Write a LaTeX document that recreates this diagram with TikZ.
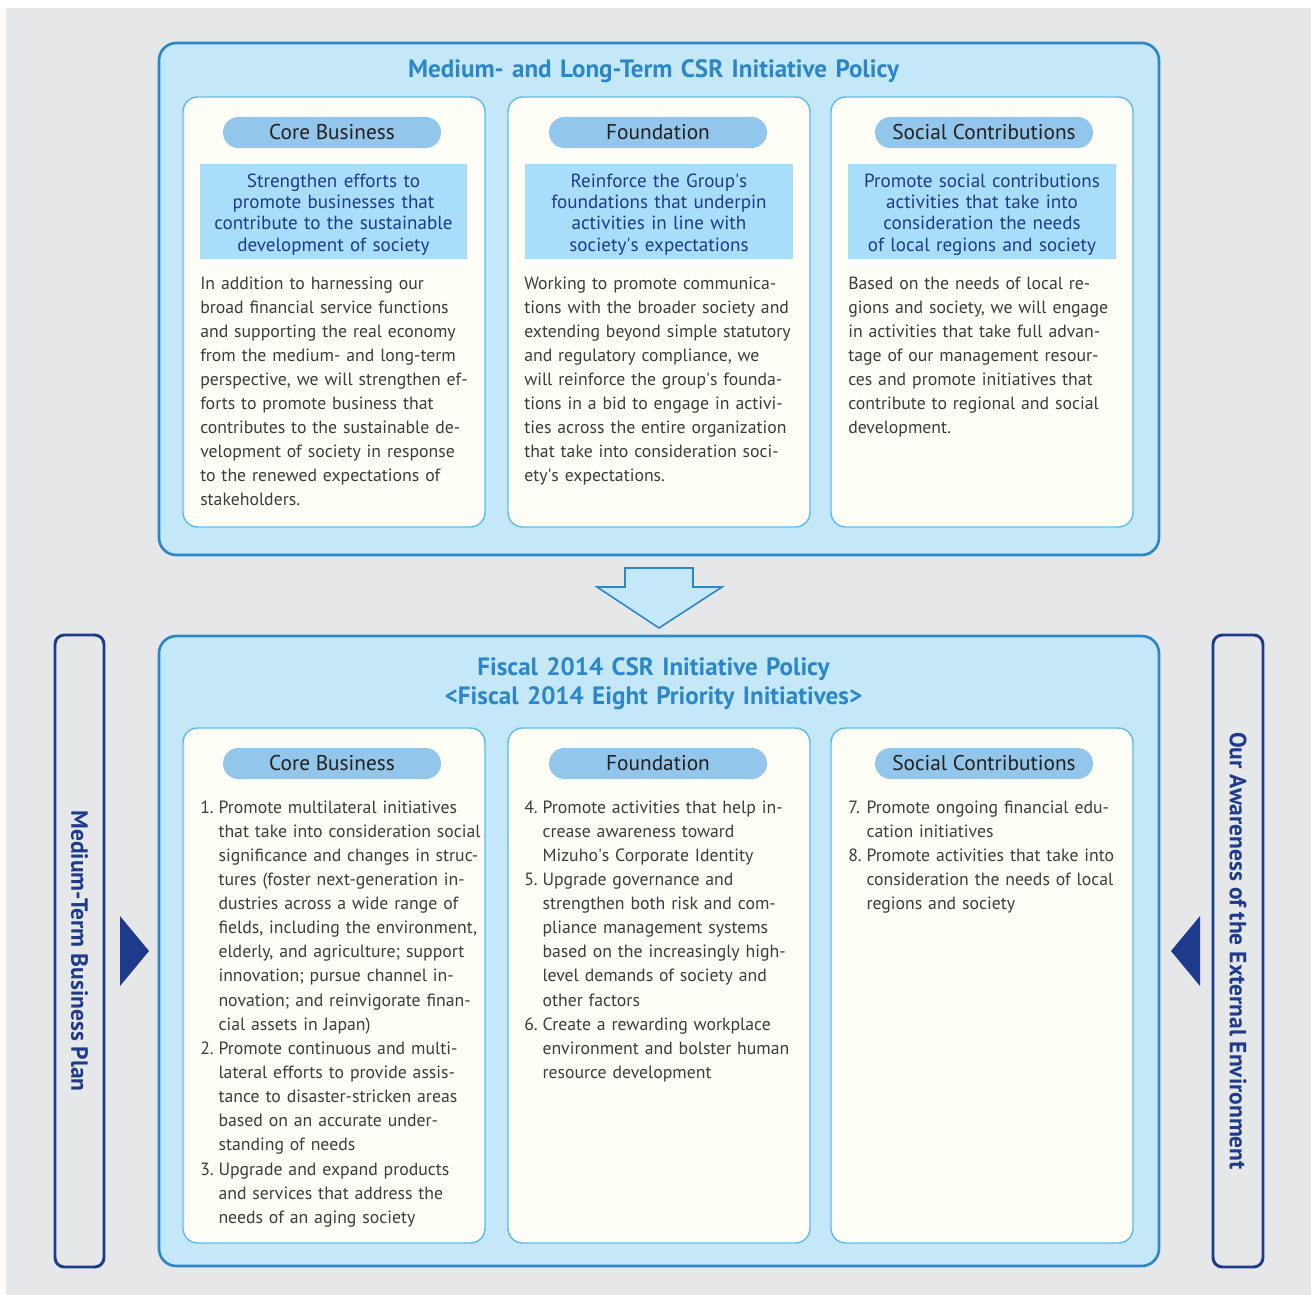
\documentclass[tikz,border=0pt]{standalone}
\usepackage{fontspec}
\setmainfont{PT Sans}
\usetikzlibrary{fit}
\definecolor{bggray}{HTML}{E6E7E9}
\definecolor{csrblue}{HTML}{2B87CA}
\definecolor{outerfill}{HTML}{C5E8F8}
\definecolor{panelline}{HTML}{62BCEA}
\definecolor{ivory}{HTML}{FEFEF7}
\definecolor{pillfill}{HTML}{92C6EA}
\definecolor{aimfill}{HTML}{A8DEF9}
\definecolor{navy}{HTML}{1E3A8C}
\definecolor{bodytext}{HTML}{3C3C3B}
\definecolor{pilltext}{HTML}{231F20}
\newcommand{\num}[1]{\makebox[13.7pt][l]{#1}}
\newcommand{\cont}{\hspace*{13.7pt}}
\newcommand{\ap}{\textquotesingle}

\begin{document}
\begin{tikzpicture}[x=0.75pt,y=-0.75pt,
  outer/.style={draw=csrblue,line width=2pt,fill=outerfill,rounded corners=13pt,inner sep=0pt},
  panel/.style={draw=panelline,line width=1.1pt,fill=ivory,rounded corners=11pt,inner sep=0pt},
  pill/.style={fill=pillfill,rounded corners=11.6pt,minimum width=163.5pt,minimum height=23.25pt,inner sep=0pt,text=pilltext,font=\fontsize{16}{18}\selectfont},
  aimbox/.style={fill=aimfill,inner sep=0pt},
  aimtext/.style={inner sep=0pt,text width=198pt,align=center,text=navy,font=\fontsize{14.3}{16}\selectfont},
  body/.style={anchor=base west,inner sep=0pt,text width=230pt,align=left,text=bodytext,font=\fontsize{13.3}{18}\selectfont},
  list/.style={body,font=\fontsize{13.3}{18.1}\selectfont},
  head/.style={anchor=base,inner sep=0pt,text width=500pt,align=center,text=csrblue,font=\fontsize{18.8}{21.75}\bfseries\selectfont},
  sidebar/.style={draw=navy,line width=2.2pt,rounded corners=7pt,inner sep=0pt},
  sidetext/.style={text=navy,rotate=-90,inner sep=0pt,font=\fontsize{17.6}{19}\bfseries\selectfont}]
\useasboundingbox (0,0) rectangle (1311,1295);
\fill[white] (0,0) rectangle (1311,1295);
\fill[bggray] (6,8) rectangle (1311,1295);

\node[outer,fit={(159,43) (1159,555)}] (top) {};
\node[head] (toptitle) at (653.5,78) {Medium- and Long-Term CSR Initiative Policy};
\node[panel,fit={(183,97) (485,527)}] (p1) {};
\node[panel,fit={(508,97) (810,527)}] (p2) {};
\node[panel,fit={(831,97) (1133,527)}] (p3) {};
\node[pill] (c1) at (332,132.5) {Core Business};
\node[pill] (c2) at (658,132.5) {Foundation};
\node[pill] (c3) at (984,132.5) {Social Contributions};
\node[aimbox,fit={(200,164) (467,259)}] (a1) {};
\node[aimbox,fit={(525,164) (793,259)}] (a2) {};
\node[aimbox,fit={(848,164) (1116,259)}] (a3) {};
\node[aimtext] (a1text) at ([yshift=-2.25pt]a1.center) {Strengthen efforts to\\promote businesses that\\contribute to the sustainable\\development of society};
\node[aimtext] (a2text) at ([yshift=-2.25pt]a2.center) {Reinforce the Group\ap s\\foundations that underpin\\activities in line with\\society\ap s expectations};
\node[aimtext] (a3text) at ([yshift=-2.25pt]a3.center) {Promote social contributions\\activities that take into\\consideration the needs\\of local regions and society};
\node[body] (t1) at (200,289.5) {In addition to harnessing our\\broad financial service functions\\and supporting the real economy\\from the medium- and long-term\\perspective, we will strengthen ef-\\forts to promote business that\\contributes to the sustainable de-\\velopment of society in response\\to the renewed expectations of\\stakeholders.};
\node[body] (t2) at (524,289.5) {Working to promote communica-\\tions with the broader society and\\extending beyond simple statutory\\and regulatory compliance, we\\will reinforce the group\ap s founda-\\tions in a bid to engage in activi-\\ties across the entire organization\\that take into consideration soci-\\ety\ap s expectations.};
\node[body] (t3) at (848,289.5) {Based on the needs of local re-\\gions and society, we will engage\\in activities that take full advan-\\tage of our management resour-\\ces and promote initiatives that\\contribute to regional and social\\development.};

\draw[csrblue,line width=1.2pt,fill=outerfill] (625,568) -- (693,568) -- (693,587) -- (722,587) -- (659,628) -- (597,587) -- (625,587) -- cycle;

\node[outer,fit={(159,636) (1159,1266)}] (bottom) {};
\node[head] (bottomtitle) at (653.5,675) {Fiscal 2014 CSR Initiative Policy\\<Fiscal 2014 Eight Priority Initiatives>};
\node[panel,fit={(183,728) (485,1243)}] (q1) {};
\node[panel,fit={(508,728) (810,1243)}] (q2) {};
\node[panel,fit={(831,728) (1133,1243)}] (q3) {};
\node[pill] (d1) at (332,763.5) {Core Business};
\node[pill] (d2) at (658,763.5) {Foundation};
\node[pill] (d3) at (984,763.5) {Social Contributions};
\node[list] (l1) at (200,813) {\num{1.}Promote multilateral initiatives\\\cont that take into consideration social\\\cont significance and changes in struc-\\\cont tures (foster next-generation in-\\\cont dustries across a wide range of\\\cont fields, including the environment,\\\cont elderly, and agriculture; support\\\cont innovation; pursue channel in-\\\cont novation; and reinvigorate finan-\\\cont cial assets in Japan)\\\num{2.}Promote continuous and multi-\\\cont lateral efforts to provide assis-\\\cont tance to disaster-stricken areas\\\cont based on an accurate under-\\\cont standing of needs\\\num{3.}Upgrade and expand products\\\cont and services that address the\\\cont needs of an aging society};
\node[list] (l2) at (524,813) {\num{4.}Promote activities that help in-\\\cont crease awareness toward\\\cont Mizuho\ap s Corporate Identity\\\num{5.}Upgrade governance and\\\cont strengthen both risk and com-\\\cont pliance management systems\\\cont based on the increasingly high-\\\cont level demands of society and\\\cont other factors\\\num{6.}Create a rewarding workplace\\\cont environment and bolster human\\\cont resource development};
\node[list] (l3) at (848,813) {\num{7.}Promote ongoing financial edu-\\\cont cation initiatives\\\num{8.}Promote activities that take into\\\cont consideration the needs of local\\\cont regions and society};

\node[sidebar,fit={(55,635) (104,1267)}] (plan) {};
\node[sidetext] (plantext) at (79.5,951) {Medium-Term Business Plan};
\node[sidebar,fit={(1213,635) (1263,1267)}] (env) {};
\node[sidetext] (envtext) at (1238,951) {Our Awareness of the External Environment};
\fill[navy] (120,916) -- (149,951) -- (120,986) -- cycle;
\fill[navy] (1200,916) -- (1171,951) -- (1200,986) -- cycle;
\end{tikzpicture}
\end{document}
